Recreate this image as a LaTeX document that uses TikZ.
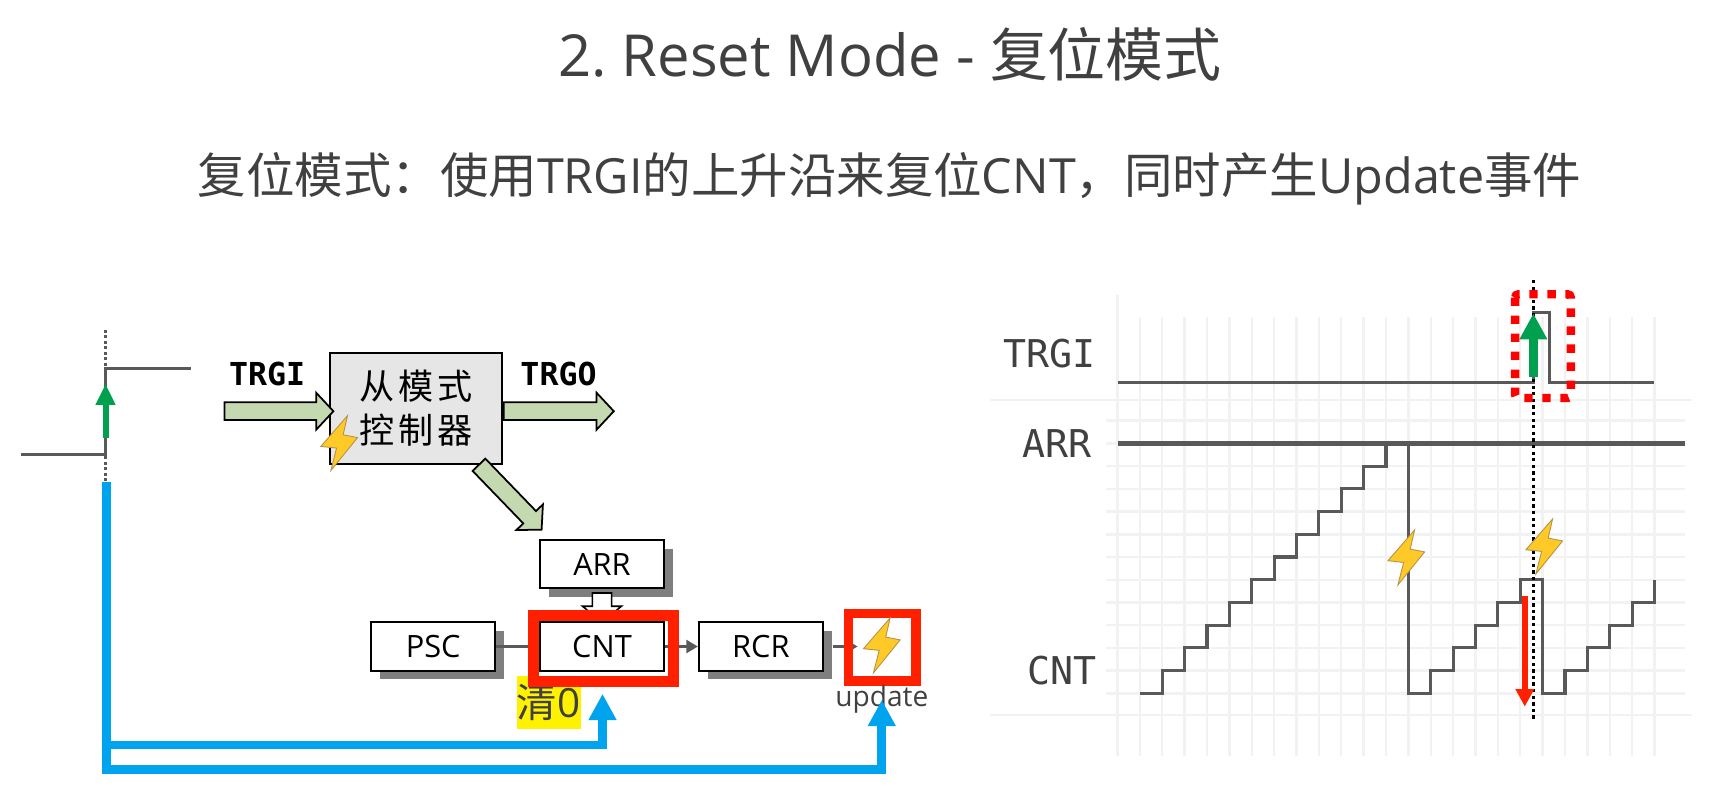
\documentclass[tikz,border=0pt]{standalone}
\usepackage{fontspec}
\setmainfont{Open Sans}
\newfontfamily\cjk{Noto Sans CJK SC}
\newfontfamily\cjkwide[LetterSpace=12]{Noto Sans CJK SC}
\newfontfamily\monofont{DejaVu Sans Mono}
\usetikzlibrary{arrows.meta,shapes.arrows,shadows}
\definecolor{textgray}{HTML}{404040}
\definecolor{wavegray}{HTML}{595959}
\definecolor{gridgray}{HTML}{F2F2F2}
\definecolor{shadowgray}{HTML}{7F7F7F}
\definecolor{armgreen}{HTML}{C5D9B1}
\definecolor{boxgray}{HTML}{E7E6E6}
\definecolor{risegreen}{HTML}{00A04F}
\definecolor{clearblue}{HTML}{00A3EE}
\definecolor{markred}{HTML}{FF2000}
\definecolor{boltyellow}{HTML}{FFC928}
\definecolor{boltedge}{HTML}{B3934A}
\def\pxu{.022cm}
\frenchspacing
\tikzset{
   regbox/.style={draw=black,fill=white,line width=1.6*\pxu,minimum width=113*\pxu,
      minimum height=44*\pxu,inner sep=0pt,font=\fontsize{17.5}{20}\selectfont},
   shadowbox/.style={regbox,drop shadow={shadow xshift=5pt,shadow yshift=-5pt,fill=shadowgray,opacity=1}},
   bigarrow/.style={single arrow,draw=black,fill=armgreen,line width=1.6*\pxu,inner xsep=0pt,
      inner ysep=7.25*\pxu,single arrow head extend=8.75*\pxu,single arrow tip angle=94},
   wave/.style={draw=wavegray,line width=2.8*\pxu},
   gridline/.style={draw=gridgray,line width=2.2*\pxu},
   thinlink/.style={draw=wavegray,line width=2*\pxu,-{Triangle[length=6.6pt,width=7.5pt]}},
   bluelink/.style={draw=clearblue,line width=8*\pxu,-{Triangle[length=15pt,width=15pt]}},
   monolabel/.style={font=\monofont\fontsize{21.8}{24}\selectfont,text=textgray,inner sep=0pt,anchor=east},
   bolt/.pic={\filldraw[fill=boltyellow,draw=boltedge,line width=.8*\pxu]
      (7.6,-25) -- (-16.7,3) -- (-2.4,4.5) -- (-7.6,25) -- (16.7,-5) -- (3.6,-7.6) -- cycle;}
}
\begin{document}
\begin{tikzpicture}[x=\pxu,y=-\pxu]
   \useasboundingbox (0,0) rectangle (1568,729.4);

   \node (title) at (809.5,49) [text=textgray,font=\fontsize{33}{38}\selectfont]
   {2. Reset Mode - {\cjk 复位模式}};
   \node (subtitle) at (809,162.5) [text=textgray,font=\fontsize{27.6}{32}\selectfont]
   {{\cjk 复位模式：使用}TRGI{\cjk 的上升沿来复位}CNT{\cjk ，同时产生}Update{\cjk 事件}};

   % left: input edge
   \draw[draw=wavegray,line width=2*\pxu,dash pattern=on 2.5*\pxu off 2.5*\pxu] (96,300) -- (96,438);
   \draw[wave] (19,413) -- (96,413) -- (96,335) -- (174,335);
   \draw[draw=risegreen,line width=5.5*\pxu,-{Triangle[length=12pt,width=10.5pt]}] (96,398) -- (96,349);

   % left: slave mode controller
   \node (slavebox) at (378.5,371.5) [draw=black,fill=boxgray,line width=1.8*\pxu,minimum width=157*\pxu,
      minimum height=101*\pxu,inner sep=0pt,align=center,font=\cjkwide\fontsize{20}{25}\selectfont]
   {从模式\\控制器};
   \node (trgilabel) at (243,340) [font=\monofont\bfseries\fontsize{18}{20}\selectfont] {TRGI};
   \node (trgolabel) at (508,340) [font=\monofont\bfseries\fontsize{18}{20}\selectfont] {TRGO};
   \node (armin) at (250,374) [bigarrow,minimum height=99*\pxu] {};
   \node (armout) at (504.5,374) [bigarrow,minimum height=100*\pxu] {};
   \node (armdown) at (461.5,449.5) [bigarrow,minimum height=82*\pxu,rotate=-46] {};
   \pic (boltslave) at (308.5,403) {bolt};

   % left: time base
   \node (highlight) at (499,639) [fill=yellow,minimum width=58*\pxu,minimum height=48*\pxu,inner sep=0pt,
      text=textgray,font=\fontsize{23}{26}\selectfont] {{\cjk 清}0};
   \node (arr) at (547.5,513) [shadowbox] {ARR};
   \node (psc) at (394,588) [shadowbox] {PSC};
   \node (cnt) at (547.5,588) [regbox] {CNT};
   \node (rcr) at (692,588) [shadowbox] {RCR};
   \node (arrfeed) at (547.5,549) [single arrow,draw=black,fill=white,line width=1.4*\pxu,inner xsep=0pt,
      inner ysep=8*\pxu,minimum height=26.4*\pxu,single arrow head extend=9*\pxu,
      single arrow tip angle=102,rotate=-90] {};
   \coordinate (updatein) at (780,588);
   \draw[draw=wavegray,line width=2*\pxu] (psc) -- (cnt);
   \draw[thinlink] (cnt) -- (rcr);
   \draw[thinlink,shorten <=8*\pxu] (rcr) -- (updatein);
   \node (cntframe) at (549,590) [draw=markred,line width=10*\pxu,minimum width=127*\pxu,minimum height=60*\pxu] {};
   \node (updateframe) at (802.5,588.5) [draw=markred,line width=8.5*\pxu,minimum width=61.5*\pxu,minimum height=61.5*\pxu] {};
   \pic (boltupdate) at (802,587) {bolt};
   \node (updatelabel) at (802,636) [text=textgray,inner sep=0pt,font=\fontsize{16}{18}\selectfont] {update};

   % left: blue links
   \coordinate (edgefoot) at (97,438);
   \coordinate (cnttip) at (548,631);
   \coordinate (updatetip) at (802,636.5);
   \draw[bluelink] (edgefoot) |- (548,677.5) -- (cnttip);
   \draw[bluelink] (edgefoot) |- (802,700) -- (updatetip);

   % right: grid and counter
   \begin{scope}[shift={(1016.4,630.6)},x=.4477cm,y=.4547cm]
      \foreach \i in {1,...,24} {
         \draw[gridline] (\i,16.57) -- (\i,-2.77);
      }
      \draw[gridline] (0,17.54) -- (0,-2.77);
      \foreach \j in {0,...,12} {
         \draw[gridline] (-.526,\j) -- (25.35,\j);
      }
      \draw[gridline] (-5.72,12.9) -- (25.68,12.9);
      \draw[gridline] (-5.72,-.953) -- (25.68,-.953);
      \draw[wave] (1,0) -| (2,1) -| (3,2) -| (4,3) -| (5,4) -| (6,5) -| (7,6) -| (8,7)
      -| (9,8) -| (10,9) -| (11,10) -| (12,11) -- (13,11) -- (13,0)
      -| (14,1) -| (15,2) -| (16,3) -| (17,4) -| (18,5) -- (19,5) -- (19,0)
      -| (20,1) -| (21,2) -| (22,3) -| (23,4) -| (24,5);
      \draw[draw=wavegray,line width=5*\pxu] (0,11) -- (25.35,11);
   \end{scope}

   % right: trigger
   \draw[wave] (1016.4,347.6) -- (1394.6,347.6) -- (1394.6,284) -- (1409,284) -- (1409,347.6) -- (1504,347.6);
   \draw[draw=black,line width=3.2*\pxu,dash pattern=on 3*\pxu off 3*\pxu] (1394.6,254.7) -- (1394.6,654.8);
   \draw[draw=red,line width=7.6*\pxu,dash pattern=on 7.6*\pxu off 8.8*\pxu,rounded corners=3*\pxu]
   (1378,267.6) rectangle (1428.7,362);
   \draw[draw=risegreen,line width=8*\pxu,-{Triangle[length=14.8pt,width=14.8pt]}] (1394.6,342.6) -- (1394.6,285);
   \draw[draw=markred,line width=5*\pxu,-{Triangle[length=10pt,width=10pt]}] (1386.8,542) -- (1386.8,642.7);
   \pic (boltfirst) at (1279,507) {bolt};
   \pic (boltsecond) at (1404.5,497) {bolt};

   \node (trgitext) at (997,322) [monolabel] {TRGI};
   \node (arrtext) at (993,403) [monolabel] {ARR};
   \node (cnttext) at (998,610) [monolabel] {CNT};
\end{tikzpicture}
\end{document}
